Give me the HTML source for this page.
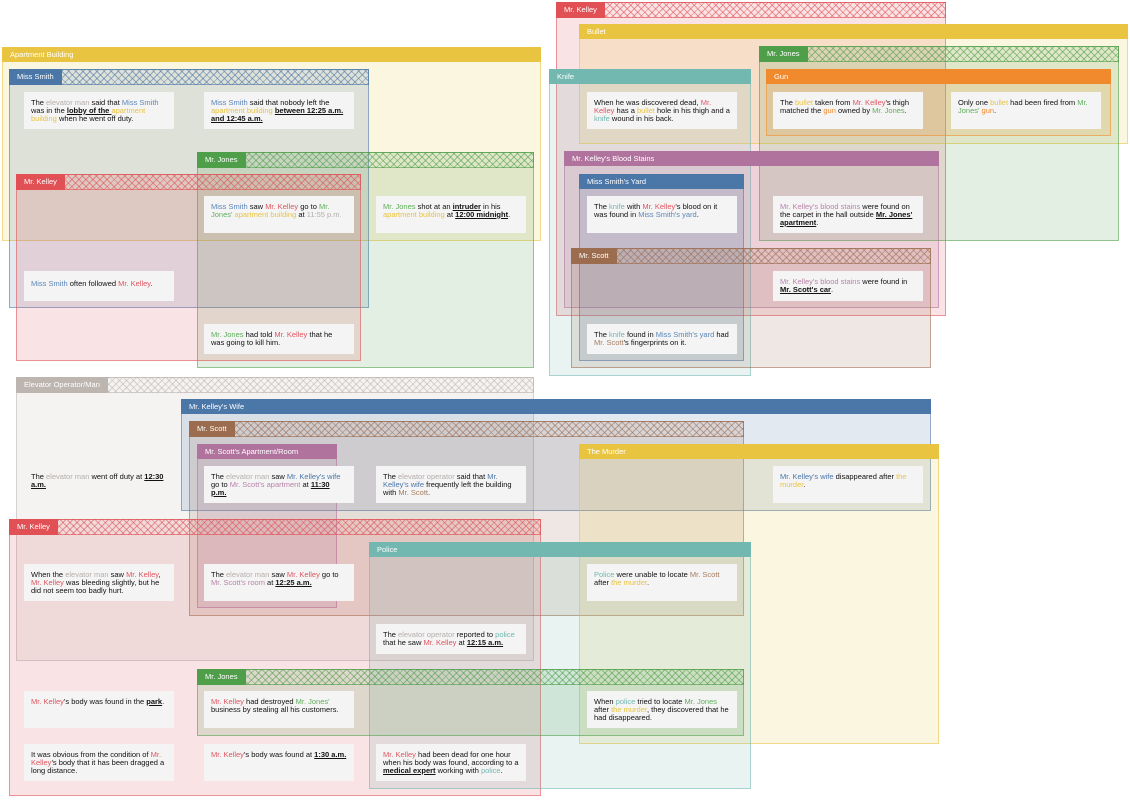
<!DOCTYPE html>
<html><head><meta charset="utf-8"><style>
html,body{margin:0;padding:0;background:#fff;width:1130px;height:800px;overflow:hidden;font-family:"Liberation Sans",Arial,sans-serif}
.g{position:absolute;box-sizing:border-box;border:1px solid rgba(var(--c),.55);background:rgba(var(--c),.16)}
.h{height:15px;background:rgb(var(--c));color:#fff;font-size:7.5px;line-height:15px;padding-left:8px;margin:-1px -1px 0 -1px}
.hh{display:flex;height:16px;margin:-1px -1px 0 -1px;border:1px solid rgba(var(--c),.6);box-sizing:border-box;
background:repeating-linear-gradient(45deg,rgba(var(--c),.55) 0 1px,transparent 1px 5px),repeating-linear-gradient(-45deg,rgba(var(--c),.55) 0 1px,transparent 1px 5px)}
.hh span{display:block;height:16px;margin:-1px 0 0 -1px;background:rgb(var(--c));color:#fff;font-size:7.5px;line-height:16px;padding:0 8px}
.n{position:absolute;background:#f4f4f4;font-size:7.5px;line-height:7.8px;padding:7px 7px;box-sizing:border-box;width:150px;color:#111}
b{font-weight:bold;text-decoration:underline}
.el{color:#b5aeaa}.sm{color:#5b86b8}.ke{color:#e05560}.jo{color:#5fae5a}.ap{color:#e9c440}.kn{color:#72b7b0}.bu{color:#e9c440}.gu{color:#f08a2c}.bl{color:#b883a8}.sc{color:#a47c62}.po{color:#72b7b0}.mu{color:#e9c440}.ws{color:#4a76a8}
</style></head><body>

<div class="g" style="--c:233,196,64;left:2px;top:47px;width:539px;height:194px"><div class="h">Apartment Building</div></div>
<div class="g" style="--c:74,118,168;left:9px;top:69px;width:360px;height:239px"><div class="hh"><span>Miss Smith</span></div></div>
<div class="g" style="--c:79,158,74;left:197px;top:152px;width:337px;height:216px"><div class="hh"><span>Mr. Jones</span></div></div>
<div class="g" style="--c:224,80,85;left:16px;top:174px;width:345px;height:187px"><div class="hh"><span>Mr. Kelley</span></div></div>

<div class="g" style="--c:224,80,85;left:556px;top:2px;width:390px;height:314px"><div class="hh"><span>Mr. Kelley</span></div></div>
<div class="g" style="--c:233,196,64;left:579px;top:24px;width:549px;height:120px"><div class="h">Bullet</div></div>
<div class="g" style="--c:79,158,74;left:759px;top:46px;width:360px;height:195px"><div class="hh"><span>Mr. Jones</span></div></div>
<div class="g" style="--c:240,138,44;left:766px;top:69px;width:345px;height:67px"><div class="h">Gun</div></div>
<div class="g" style="--c:114,183,176;left:549px;top:69px;width:202px;height:307px"><div class="h">Knife</div></div>
<div class="g" style="--c:176,115,158;left:564px;top:151px;width:375px;height:157px"><div class="h">Mr. Kelley's Blood Stains</div></div>
<div class="g" style="--c:74,118,168;left:579px;top:174px;width:165px;height:187px"><div class="h">Miss Smith's Yard</div></div>
<div class="g" style="--c:156,108,78;left:571px;top:248px;width:360px;height:120px"><div class="hh"><span>Mr. Scott</span></div></div>

<div class="g" style="--c:189,181,176;left:16px;top:377px;width:518px;height:284px"><div class="hh"><span>Elevator Operator/Man</span></div></div>
<div class="g" style="--c:74,118,168;left:181px;top:399px;width:750px;height:112px"><div class="h">Mr. Kelley's Wife</div></div>
<div class="g" style="--c:156,108,78;left:189px;top:421px;width:555px;height:195px"><div class="hh"><span>Mr. Scott</span></div></div>
<div class="g" style="--c:176,115,158;left:197px;top:444px;width:140px;height:164px"><div class="h">Mr. Scott's Apartment/Room</div></div>
<div class="g" style="--c:233,196,64;left:579px;top:444px;width:360px;height:300px"><div class="h">The Murder</div></div>
<div class="g" style="--c:224,80,85;left:9px;top:519px;width:532px;height:277px"><div class="hh"><span>Mr. Kelley</span></div></div>
<div class="g" style="--c:114,183,176;left:369px;top:542px;width:382px;height:247px"><div class="h">Police</div></div>
<div class="g" style="--c:79,158,74;left:197px;top:669px;width:547px;height:67px"><div class="hh"><span>Mr. Jones</span></div></div>

<div class="n" style="left:24px;top:92px;height:37px">The <span class="el">elevator man</span> said that <span class="sm">Miss Smith</span> was in the <b>lobby of the </b><span class="ap">apartment building</span> when he went off duty.</div>
<div class="n" style="left:204px;top:92px;height:37px"><span class="sm">Miss Smith</span> said that nobody left the <span class="ap">apartment building</span> <b>between 12:25 a.m. and 12:45 a.m.</b></div>
<div class="n" style="left:204px;top:196px;height:37px"><span class="sm">Miss Smith</span> saw <span class="ke">Mr. Kelley</span> go to <span class="jo">Mr. Jones'</span> <span class="ap">apartment building</span> at <span class="el">11:55 p.m.</span></div>
<div class="n" style="left:376px;top:196px;height:37px"><span class="jo">Mr. Jones</span> shot at an <b>intruder</b> in his <span class="ap">apartment building</span> at <b>12:00 midnight</b>.</div>
<div class="n" style="left:24px;top:271px;height:30px;padding-top:9px"><span class="sm">Miss Smith</span> often followed <span class="ke">Mr. Kelley</span>.</div>
<div class="n" style="left:204px;top:324px;height:30px"><span class="jo">Mr. Jones</span> had told <span class="ke">Mr. Kelley</span> that he was going to kill him.</div>

<div class="n" style="left:587px;top:92px;height:37px">When he was discovered dead, <span class="ke">Mr. Kelley</span> has a <span class="bu">bullet</span> hole in his thigh and a <span class="kn">knife</span> wound in his back.</div>
<div class="n" style="left:773px;top:92px;height:37px">The <span class="bu">bullet</span> taken from <span class="ke">Mr. Kelley</span>'s thigh matched the <span class="gu">gun</span> owned by <span class="jo">Mr. Jones</span>.</div>
<div class="n" style="left:951px;top:92px;height:37px">Only one <span class="bu">bullet</span> had been fired from <span class="jo">Mr. Jones'</span> <span class="gu">gun</span>.</div>
<div class="n" style="left:587px;top:196px;height:37px">The <span class="kn">knife</span> with <span class="ke">Mr. Kelley</span>'s blood on it was found in <span class="sm">Miss Smith's yard</span>.</div>
<div class="n" style="left:773px;top:196px;height:37px"><span class="bl">Mr. Kelley's blood stains</span> were found on the carpet in the hall outside <b>Mr. Jones' apartment</b>.</div>
<div class="n" style="left:773px;top:271px;height:30px"><span class="bl">Mr. Kelley's blood stains</span> were found in <b>Mr. Scott's car</b>.</div>
<div class="n" style="left:587px;top:324px;height:30px">The <span class="kn">knife</span> found in <span class="sm">Miss Smith's yard</span> had <span class="sc">Mr. Scott</span>'s fingerprints on it.</div>

<div class="n" style="left:24px;top:466px;height:37px;background:transparent">The <span class="el">elevator man</span> went off duty at <b>12:30 a.m.</b></div>
<div class="n" style="left:204px;top:466px;height:37px">The <span class="el">elevator man</span> saw <span class="ws">Mr. Kelley's wife</span> go to <span class="bl">Mr. Scott's apartment</span> at <b>11:30 p.m.</b></div>
<div class="n" style="left:376px;top:466px;height:37px">The <span class="el">elevator operator</span> said that <span class="ws">Mr. Kelley's wife</span> frequently left the building with <span class="sc">Mr. Scott</span>.</div>
<div class="n" style="left:773px;top:466px;height:37px"><span class="ws">Mr. Kelley's wife</span> disappeared after <span class="mu">the murder</span>.</div>
<div class="n" style="left:24px;top:564px;height:37px">When the <span class="el">elevator man</span> saw <span class="ke">Mr. Kelley</span>, <span class="ke">Mr. Kelley</span> was bleeding slightly, but he did not seem too badly hurt.</div>
<div class="n" style="left:204px;top:564px;height:37px">The <span class="el">elevator man</span> saw <span class="ke">Mr. Kelley</span> go to <span class="bl">Mr. Scott's room</span> at <b>12:25 a.m.</b></div>
<div class="n" style="left:587px;top:564px;height:37px"><span class="po">Police</span> were unable to locate <span class="sc">Mr. Scott</span> after <span class="mu">the murder</span>.</div>
<div class="n" style="left:376px;top:624px;height:30px">The <span class="el">elevator operator</span> reported to <span class="po">police</span> that he saw <span class="ke">Mr. Kelley</span> at <b>12:15 a.m.</b></div>
<div class="n" style="left:24px;top:691px;height:37px"><span class="ke">Mr. Kelley</span>'s body was found in the <b>park</b>.</div>
<div class="n" style="left:204px;top:691px;height:37px"><span class="ke">Mr. Kelley</span> had destroyed <span class="jo">Mr. Jones'</span> business by stealing all his customers.</div>
<div class="n" style="left:587px;top:691px;height:37px">When <span class="po">police</span> tried to locate <span class="jo">Mr. Jones</span> after <span class="mu">the murder</span>, they discovered that he had disappeared.</div>
<div class="n" style="left:24px;top:744px;height:37px">It was obvious from the condition of <span class="ke">Mr. Kelley</span>'s body that it has been dragged a long distance.</div>
<div class="n" style="left:204px;top:744px;height:37px"><span class="ke">Mr. Kelley</span>'s body was found at <b>1:30 a.m.</b></div>
<div class="n" style="left:376px;top:744px;height:37px"><span class="ke">Mr. Kelley</span> had been dead for one hour when his body was found, according to a <b>medical expert</b> working with <span class="po">police</span>.</div>

</body></html>
